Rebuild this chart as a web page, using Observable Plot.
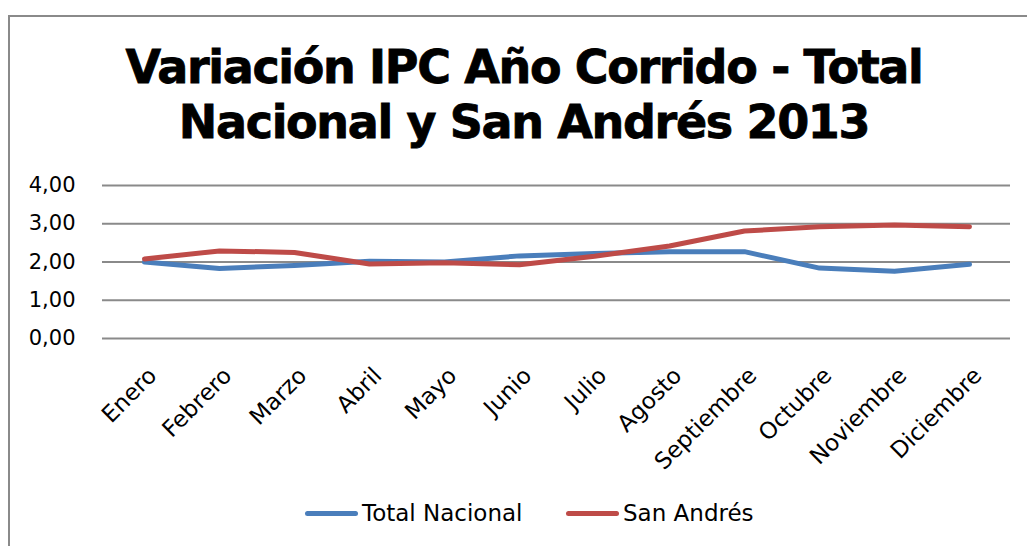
<!DOCTYPE html>
<html>
<head>
<meta charset="utf-8">
<script src="https://cdn.jsdelivr.net/npm/d3@7"></script>
<script src="https://cdn.jsdelivr.net/npm/@observablehq/plot@0.6"></script>
<style>
  html, body { margin: 0; padding: 0; background: #fff; }
  #wrap { position: relative; width: 1027px; height: 546px; overflow: hidden; background: #fff; font-family: "DejaVu Sans", sans-serif; }
  #frame { position: absolute; left: 8px; top: 15px; width: 1100px; height: 600px; border-left: 2px solid #8a8a8a; border-top: 2px solid #8a8a8a; box-sizing: border-box; }
  #title { position: absolute; left: 0; width: 1048px; top: 40px; text-align: center; font-family: "DejaVu Sans", sans-serif; font-weight: bold; font-size: 46px; line-height: 55px; color: #000; white-space: nowrap; -webkit-text-stroke: 0.8px #000; }
  #chart { position: absolute; left: 0; top: 0; }
  #legend { position: absolute; top: 500px; left: 0; width: 1027px; font-size: 23px; color: #000; }
  .lg { position: absolute; display: flex; align-items: center; white-space: nowrap; }
  .sw { display: inline-block; width: 53px; height: 5px; border-radius: 3px; margin-right: 4px; }
</style>
</head>
<body>
<div id="wrap">
  <div id="frame"></div>
  <div id="chart"></div>
  <div id="title"><span id="t1">Variación IPC Año Corrido - Total</span><br><span id="t2">Nacional y San Andrés 2013</span></div>
  <div id="legend"></div>
</div>
<script>
const months = ["Enero","Febrero","Marzo","Abril","Mayo","Junio","Julio","Agosto","Septiembre","Octubre","Noviembre","Diciembre"];
const totalNacional = [2.00, 1.83, 1.91, 2.02, 2.00, 2.16, 2.22, 2.27, 2.27, 1.84, 1.76, 1.94];
const sanAndres = [2.08, 2.29, 2.25, 1.95, 1.98, 1.93, 2.15, 2.42, 2.81, 2.92, 2.97, 2.92];
const yTicks = [0, 1, 2, 3, 4];
const seriesNames = ["Total Nacional", "San Andrés"];
const seriesColors = ["#4a7ebb", "#be4b48"];

const rows = [];
months.forEach((m, i) => {
  rows.push({month: m, value: totalNacional[i], series: seriesNames[0]});
  rows.push({month: m, value: sanAndres[i], series: seriesNames[1]});
});

const fmt = d => d.toFixed(2).replace(".", ",");

const plot = Plot.plot({
  width: 1027,
  height: 480,
  marginTop: 185,
  marginBottom: 142,
  marginLeft: 102,
  marginRight: 17,
  style: {fontFamily: "DejaVu Sans, sans-serif", color: "#000", background: "transparent"},
  x: {type: "point", domain: months, padding: 0.5, axis: null},
  y: {domain: [0, 4], ticks: yTicks},
  color: {domain: seriesNames, range: seriesColors},
  marks: [
    Plot.ruleY(yTicks, {stroke: "#8a8a8a", strokeWidth: 2, strokeOpacity: 1}),
    Plot.axisY(yTicks, {tickSize: 0, tickPadding: 27, fontSize: 21, tickFormat: fmt, label: null, fill: "#000"}),
    Plot.line(rows, {x: "month", y: "value", z: "series", stroke: "series", strokeWidth: 5, strokeLinecap: "round", strokeLinejoin: "round"}),
    Plot.text(months, {x: d => d, frameAnchor: "bottom", dx: 2, dy: 27, rotate: -45, textAnchor: "end", lineAnchor: "top", fontSize: 23, fill: "#000"})
  ]
});
document.getElementById("chart").appendChild(plot);

// fit title line width to reference
const cv = document.createElement("canvas").getContext("2d");
cv.font = "bold 46px 'DejaVu Sans'";
const w1 = cv.measureText("Variación IPC Año Corrido - Total").width;
const ls = (797 - w1) / 33;
document.getElementById("title").style.letterSpacing = ls + "px";

// legend
const legend = document.getElementById("legend");
const lefts = [305, 566];
seriesNames.forEach((name, i) => {
  const el = document.createElement("div");
  el.className = "lg";
  el.style.left = lefts[i] + "px";
  const sw = document.createElement("span");
  sw.className = "sw";
  sw.style.background = seriesColors[i];
  const tx = document.createElement("span");
  tx.textContent = name;
  el.appendChild(sw); el.appendChild(tx);
  legend.appendChild(el);
});
</script>
</body>
</html>
